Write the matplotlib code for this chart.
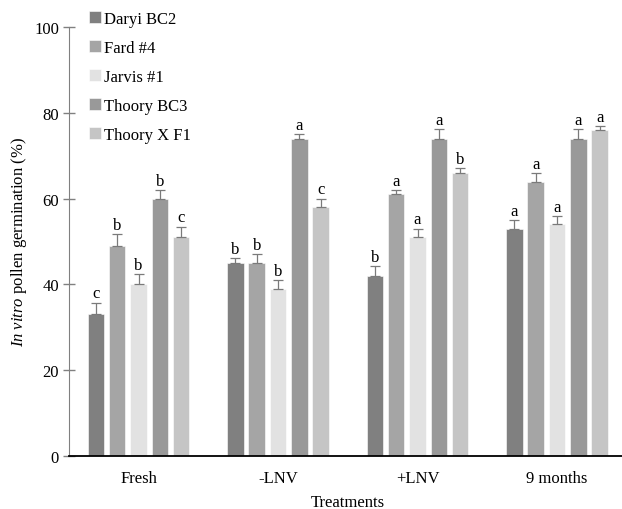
import matplotlib
matplotlib.use("Agg")
import matplotlib.pyplot as plt
import numpy as np

treatments = ["Fresh", "-LNV", "+LNV", "9 months"]
genotypes = ["Daryi BC2", "Fard #4", "Jarvis #1", "Thoory BC3", "Thoory X F1"]
colors = ["#808080", "#a5a5a5", "#e2e2e2", "#999999", "#c5c5c5"]

# germination (%) per genotype, one value per treatment
daryi = [33, 45, 42, 53]
fard = [49, 45, 61, 64]
jarvis = [40, 39, 51, 54]
thoory_bc3 = [60, 74, 74, 74]
thoory_xf1 = [51, 58, 66, 76]

daryi_err = [2.7, 1.1, 2.2, 2.0]
fard_err = [2.8, 2.0, 1.0, 2.0]
jarvis_err = [2.3, 2.0, 2.0, 2.0]
thoory_bc3_err = [2.0, 1.1, 2.2, 2.2]
thoory_xf1_err = [2.5, 2.0, 1.1, 1.0]

daryi_let = ["c", "b", "b", "a"]
fard_let = ["b", "b", "a", "a"]
jarvis_let = ["b", "b", "a", "a"]
thoory_bc3_let = ["b", "a", "a", "a"]
thoory_xf1_let = ["c", "c", "b", "a"]

values = [daryi, fard, jarvis, thoory_bc3, thoory_xf1]
errors = [daryi_err, fard_err, jarvis_err, thoory_bc3_err, thoory_xf1_err]
letters = [daryi_let, fard_let, jarvis_let, thoory_bc3_let, thoory_xf1_let]

plt.rcParams['font.family'] = ['Liberation Serif', 'DejaVu Serif']
plt.rcParams['mathtext.fontset'] = 'custom'
plt.rcParams['mathtext.rm'] = 'Liberation Serif'
plt.rcParams['mathtext.it'] = 'Liberation Serif:italic'

fig = plt.figure(figsize=(6.22, 5.10), dpi=100)
ax = fig.add_axes([0.1106, 0.1045, 0.897, 0.84])

x = np.arange(len(treatments))
pitch = 0.153
width = 0.1176
for i, g in enumerate(genotypes):
    pos = x + (i - 2) * pitch
    ax.bar(pos, values[i], width, color=colors[i], label=g, edgecolor="white", linewidth=0.4, zorder=2)
    ax.errorbar(pos, values[i], yerr=[np.zeros(len(x)), errors[i]], fmt="none",
                ecolor="#7a7a7a", elinewidth=0.9, capsize=3.5, capthick=0.9, zorder=3)
    for j in range(len(x)):
        ax.text(pos[j], values[i][j] + errors[i][j] + 0.3, letters[i][j],
                ha="center", va="bottom", fontsize=12)

ax.set_xlim(-0.5, 3.5)
ax.set_ylim(0, 100)
ax.set_yticks(range(0, 101, 20))
ax.set_xticks(x)
ax.set_xticklabels(treatments, fontsize=12)
ax.tick_params(axis="y", direction="inout", length=8, width=1, color="#808080", labelsize=12, pad=3)
ax.tick_params(axis="x", length=0, pad=10)

ax.spines["top"].set_visible(False)
ax.spines["right"].set_visible(False)
ax.spines["left"].set_color("#808080")
ax.spines["bottom"].set_color("black")
ax.spines["bottom"].set_linewidth(1.3)

ax.set_ylabel("$\\it{In\\ vitro}$ pollen germination (%)", fontsize=12, labelpad=4)
ax.set_xlabel("Treatments", fontsize=12, labelpad=6)

fig.legend(loc="upper left", bbox_to_anchor=(89 / 622, 1 - 12 / 510), frameon=False, fontsize=12,
           handlelength=0.7, handleheight=0.7, handletextpad=0.2, labelspacing=0.78,
           borderaxespad=0, borderpad=0)

fig.savefig("out.png", dpi=100)
